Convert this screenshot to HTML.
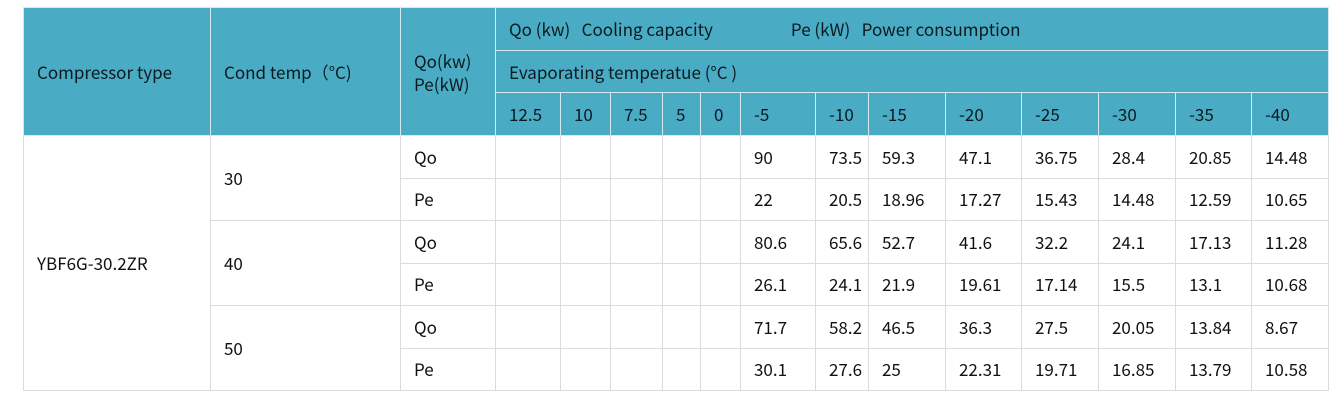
<!DOCTYPE html>
<html><head><meta charset="utf-8"><style>
body{margin:0;background:#fff;width:1338px;height:415px;overflow:hidden;font-family:"Noto Sans CJK SC","Liberation Sans",sans-serif;}
table{position:absolute;left:23px;top:7px;border-collapse:collapse;table-layout:fixed;width:1305px;font-size:17px;color:#111;}
td{border:1px solid #dcdcdc;padding:0 0 0 13px;white-space:nowrap;overflow:hidden;box-sizing:border-box;line-height:22px;}
thead td{background:#4aabc4;border-color:#d4eaf0;color:#0b1a20;}
thead tr{height:42.7px;}
tbody tr{height:42.5px;}
</style></head><body>
<table>
<colgroup><col style="width:187px"><col style="width:190px"><col style="width:95px"><col style="width:65px"><col style="width:50px"><col style="width:52px"><col style="width:38px"><col style="width:40px"><col style="width:75px"><col style="width:53px"><col style="width:77px"><col style="width:76px"><col style="width:77px"><col style="width:77px"><col style="width:76px"><col style="width:77px"></colgroup>
<thead>
<tr><td rowspan="3">Compressor type</td><td rowspan="3">Cond temp（°C)</td><td rowspan="3" style="line-height:23px">Qo(kw)<br>Pe(kW)</td><td colspan="13">Qo (kw)&nbsp;&nbsp; Cooling capacity<span style="display:inline-block;width:78px"></span>Pe (kW)&nbsp;&nbsp; Power consumption</td></tr>
<tr><td colspan="13">Evaporating temperatue (°C )</td></tr>
<tr><td>12.5</td><td>10</td><td>7.5</td><td>5</td><td>0</td><td>-5</td><td>-10</td><td>-15</td><td>-20</td><td>-25</td><td>-30</td><td>-35</td><td>-40</td></tr>
</thead>
<tbody>
<tr><td rowspan="6">YBF6G-30.2ZR</td><td rowspan="2">30</td><td>Qo</td><td></td><td></td><td></td><td></td><td></td><td>90</td><td>73.5</td><td>59.3</td><td>47.1</td><td>36.75</td><td>28.4</td><td>20.85</td><td>14.48</td></tr>
<tr><td>Pe</td><td></td><td></td><td></td><td></td><td></td><td>22</td><td>20.5</td><td>18.96</td><td>17.27</td><td>15.43</td><td>14.48</td><td>12.59</td><td>10.65</td></tr>
<tr><td rowspan="2">40</td><td>Qo</td><td></td><td></td><td></td><td></td><td></td><td>80.6</td><td>65.6</td><td>52.7</td><td>41.6</td><td>32.2</td><td>24.1</td><td>17.13</td><td>11.28</td></tr>
<tr><td>Pe</td><td></td><td></td><td></td><td></td><td></td><td>26.1</td><td>24.1</td><td>21.9</td><td>19.61</td><td>17.14</td><td>15.5</td><td>13.1</td><td>10.68</td></tr>
<tr><td rowspan="2">50</td><td>Qo</td><td></td><td></td><td></td><td></td><td></td><td>71.7</td><td>58.2</td><td>46.5</td><td>36.3</td><td>27.5</td><td>20.05</td><td>13.84</td><td>8.67</td></tr>
<tr><td>Pe</td><td></td><td></td><td></td><td></td><td></td><td>30.1</td><td>27.6</td><td>25</td><td>22.31</td><td>19.71</td><td>16.85</td><td>13.79</td><td>10.58</td></tr>
</tbody>
</table>
</body></html>
